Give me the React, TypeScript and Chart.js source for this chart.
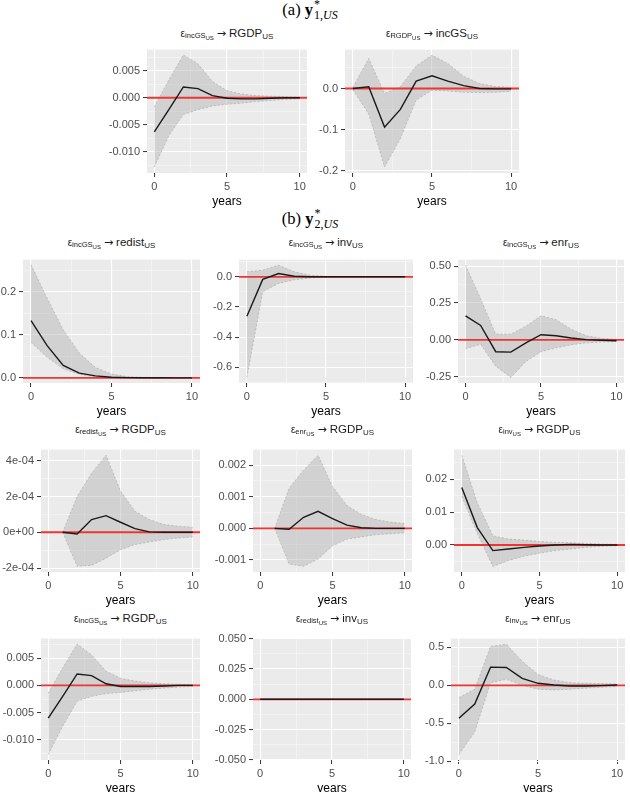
import React, { useEffect, useRef } from 'react';
import { Chart, registerables } from 'chart.js';

Chart.register(...registerables);

const SANS = '"Liberation Sans", Arial, Helvetica, sans-serif';
const SERIF = '"Liberation Serif", "Times New Roman", Times, serif';

// Horizon in years after the shock
const years = [0, 1, 2, 3, 4, 5, 6, 7, 8, 9, 10];
const yearTicks = [0, 5, 10];
const yearRange = [-0.5, 10.5];

// ---------- (a) y*_{1,US} ----------
// incGS shock -> RGDP
const a1Irf = [-0.0063, -0.0022, 0.002, 0.0017, 0.0004, -0.0001, -0.0002, -0.0002, -0.0001, 0.0, 0.0];
const a1Lower = [-0.0128, -0.007, -0.0031, -0.0022, -0.0015, -0.0012, -0.001, -0.0007, -0.0005, -0.0003, -0.0002];
const a1Upper = [-0.0017, 0.0033, 0.0079, 0.0063, 0.003, 0.0013, 0.0007, 0.0004, 0.0003, 0.0002, 0.0001];
const a1Range = [-0.0139, 0.0089];
const a1Ticks = [-0.01, -0.005, 0, 0.005];
const a1Labels = ['-0.010', '-0.005', '0.000', '0.005'];

// RGDP shock -> incGS
const a2Irf = [0.0, 0.004, -0.094, -0.051, 0.018, 0.031, 0.018, 0.007, 0.0, -0.001, -0.001];
const a2Lower = [-0.003, -0.062, -0.191, -0.122, -0.028, -0.004, -0.006, -0.009, -0.01, -0.009, -0.007];
const a2Upper = [0.003, 0.073, -0.012, 0.004, 0.055, 0.081, 0.061, 0.03, 0.012, 0.005, 0.003];
const a2Range = [-0.2057, 0.0947];
const a2Ticks = [-0.2, -0.1, 0];
const a2Labels = ['-0.2', '-0.1', '0.0'];

// ---------- (b) y*_{2,US} ----------
// incGS shock -> redist
const b1Irf = [0.133, 0.075, 0.029, 0.011, 0.0046, 0.0015, 0.0005, 0.0002, 0.0001, 0.0, 0.0];
const b1Lower = [0.083, 0.048, 0.021, 0.008, 0.002, 0.0005, 0.0001, 0.0, 0.0, 0.0, 0.0];
const b1Upper = [0.263, 0.185, 0.112, 0.058, 0.024, 0.009, 0.003, 0.001, 0.0005, 0.0002, 0.0001];
const b1Range = [-0.012, 0.275];
const b1Ticks = [0, 0.1, 0.2];
const b1Labels = ['0.0', '0.1', '0.2'];

// incGS shock -> inv
const b2Irf = [-0.262, -0.017, 0.022, 0.004, 0.0, 0.0, 0.0, 0.0, 0.0, 0.0, 0.0];
const b2Lower = [-0.667, -0.098, -0.044, -0.02, -0.008, -0.003, -0.001, 0.0, 0.0, 0.0, 0.0];
const b2Upper = [0.033, 0.044, 0.077, 0.033, 0.011, 0.003, 0.001, 0.0, 0.0, 0.0, 0.0];
const b2Range = [-0.704, 0.114];
const b2Ticks = [-0.6, -0.4, -0.2, 0];
const b2Labels = ['-0.6', '-0.4', '-0.2', '0.0'];

// incGS shock -> enr
const b3Irf = [0.163, 0.098, -0.08, -0.083, -0.02, 0.035, 0.028, 0.013, 0.002, -0.002, -0.006];
const b3Lower = [-0.059, -0.03, -0.178, -0.254, -0.146, -0.08, -0.054, -0.033, -0.02, -0.015, -0.011];
const b3Upper = [0.506, 0.278, 0.039, 0.039, 0.093, 0.163, 0.137, 0.072, 0.028, 0.011, 0.004];
const b3Range = [-0.292, 0.544];
const b3Ticks = [-0.25, 0, 0.25, 0.5];
const b3Labels = ['-0.25', '0.00', '0.25', '0.50'];

// redist shock -> RGDP (no response reported on impact)
const c1Irf = [null, 0.0, -0.00001, 0.000071, 0.000093, 0.000056, 0.00002, 0.000002, 0.0, 0.0, 0.0];
const c1Lower = [null, 0.0, -0.00019, -0.000185, -0.000145, -0.000097, -0.000069, -0.000054, -0.000041, -0.000032, -0.000026];
const c1Upper = [null, 0.0, 0.0002, 0.00033, 0.00043, 0.00023, 0.000118, 0.000071, 0.000043, 0.000034, 0.000028];
const c1Range = [-0.000222, 0.000462];
const c1Ticks = [-0.0002, 0, 0.0002, 0.0004];
const c1Labels = ['-2e-04', '0e+00', '2e-04', '4e-04'];

// enr shock -> RGDP (no response reported on impact)
const c2Irf = [null, 0.0, -0.00003, 0.00035, 0.00054, 0.00031, 0.0001, 0.00002, 0.0, 0.0, 0.0];
const c2Lower = [null, 0.0, -0.00113, -0.0012, -0.00097, -0.00055, -0.00034, -0.00027, -0.0002, -0.00017, -0.00014];
const c2Upper = [null, 0.0, 0.00127, 0.00184, 0.00231, 0.00132, 0.00072, 0.00044, 0.00028, 0.0002, 0.00015];
const c2Range = [-0.00138, 0.00249];
const c2Ticks = [-0.001, 0, 0.001, 0.002];
const c2Labels = ['-0.001', '0.000', '0.001', '0.002'];

// inv shock -> RGDP
const c3Irf = [0.0175, 0.0053, -0.0017, -0.0012, -0.0007, -0.0003, 0.0, 0.0002, 0.0001, 0.0, 0.0];
const c3Lower = [0.0148, 0.0035, -0.0065, -0.0047, -0.0034, -0.0025, -0.0017, -0.0012, -0.0007, -0.0004, -0.0002];
const c3Upper = [0.0273, 0.0128, 0.0028, 0.0018, 0.0015, 0.0011, 0.0008, 0.0007, 0.0005, 0.0003, 0.0002];
const c3Range = [-0.0082, 0.029];
const c3Ticks = [0, 0.01, 0.02];
const c3Labels = ['0.00', '0.01', '0.02'];

// incGS shock -> RGDP
const d1Irf = [-0.006, -0.002, 0.0021, 0.0018, 0.0003, -0.0002, -0.0002, -0.0002, -0.0001, 0.0, 0.0];
const d1Lower = [-0.0127, -0.0075, -0.0029, -0.002, -0.0015, -0.0013, -0.001, -0.0007, -0.0005, -0.0003, -0.0002];
const d1Upper = [-0.0014, 0.0032, 0.0076, 0.0056, 0.0026, 0.0013, 0.0008, 0.0005, 0.0003, 0.0002, 0.0001];
const d1Range = [-0.0137, 0.0086];
const d1Ticks = [-0.01, -0.005, 0, 0.005];
const d1Labels = ['-0.010', '-0.005', '0.000', '0.005'];

// redist shock -> inv (identically zero)
const d2Irf = [0, 0, 0, 0, 0, 0, 0, 0, 0, 0, 0];
const d2Lower = [0, 0, 0, 0, 0, 0, 0, 0, 0, 0, 0];
const d2Upper = [0, 0, 0, 0, 0, 0, 0, 0, 0, 0, 0];
const d2Range = [-0.05, 0.05];
const d2Ticks = [-0.05, -0.025, 0, 0.025, 0.05];
const d2Labels = ['-0.050', '-0.025', '0.000', '0.025', '0.050'];

// inv shock -> enr
const d3Irf = [-0.435, -0.248, 0.239, 0.235, 0.091, 0.026, 0.004, -0.009, -0.009, -0.004, 0.004];
const d3Lower = [-0.913, -0.617, 0.035, 0.078, 0.0, -0.052, -0.061, -0.052, -0.039, -0.026, -0.017];
const d3Upper = [-0.161, -0.052, 0.513, 0.543, 0.317, 0.143, 0.07, 0.035, 0.026, 0.022, 0.017];
const d3Range = [-0.986, 0.616];
const d3Ticks = [-1, -0.5, 0, 0.5];
const d3Labels = ['-1.0', '-0.5', '0.0', '0.5'];

type Series = (number | null)[];

interface PanelSpec {
  id: string;
  shock: string;
  response: string;
  irf: Series;
  lower: Series;
  upper: Series;
  range: number[];
  ticks: number[];
  labels: string[];
}

const panels: PanelSpec[] = [
  { id: 'a1', shock: 'incGS', response: 'RGDP', irf: a1Irf, lower: a1Lower, upper: a1Upper, range: a1Range, ticks: a1Ticks, labels: a1Labels },
  { id: 'a2', shock: 'RGDP', response: 'incGS', irf: a2Irf, lower: a2Lower, upper: a2Upper, range: a2Range, ticks: a2Ticks, labels: a2Labels },
  { id: 'b1', shock: 'incGS', response: 'redist', irf: b1Irf, lower: b1Lower, upper: b1Upper, range: b1Range, ticks: b1Ticks, labels: b1Labels },
  { id: 'b2', shock: 'incGS', response: 'inv', irf: b2Irf, lower: b2Lower, upper: b2Upper, range: b2Range, ticks: b2Ticks, labels: b2Labels },
  { id: 'b3', shock: 'incGS', response: 'enr', irf: b3Irf, lower: b3Lower, upper: b3Upper, range: b3Range, ticks: b3Ticks, labels: b3Labels },
  { id: 'c1', shock: 'redist', response: 'RGDP', irf: c1Irf, lower: c1Lower, upper: c1Upper, range: c1Range, ticks: c1Ticks, labels: c1Labels },
  { id: 'c2', shock: 'enr', response: 'RGDP', irf: c2Irf, lower: c2Lower, upper: c2Upper, range: c2Range, ticks: c2Ticks, labels: c2Labels },
  { id: 'c3', shock: 'inv', response: 'RGDP', irf: c3Irf, lower: c3Lower, upper: c3Upper, range: c3Range, ticks: c3Ticks, labels: c3Labels },
  { id: 'd1', shock: 'incGS', response: 'RGDP', irf: d1Irf, lower: d1Lower, upper: d1Upper, range: d1Range, ticks: d1Ticks, labels: d1Labels },
  { id: 'd2', shock: 'redist', response: 'inv', irf: d2Irf, lower: d2Lower, upper: d2Upper, range: d2Range, ticks: d2Ticks, labels: d2Labels },
  { id: 'd3', shock: 'inv', response: 'enr', irf: d3Irf, lower: d3Lower, upper: d3Upper, range: d3Range, ticks: d3Ticks, labels: d3Labels },
];

// Page layout: plot-panel rectangle [left, top, right, bottom] and title centre line
const placement: Record<string, { plot: number[]; titleY: number }> = {
  a1: { plot: [147, 48, 307, 173], titleY: 33 },
  a2: { plot: [345, 48, 519, 173], titleY: 33 },
  b1: { plot: [23, 258, 200, 383], titleY: 242 },
  b2: { plot: [239, 258, 413, 383], titleY: 242 },
  b3: { plot: [458, 258, 624, 383], titleY: 242 },
  c1: { plot: [41, 448, 200, 572], titleY: 429 },
  c2: { plot: [253, 448, 412, 572], titleY: 429 },
  c3: { plot: [454, 448, 625, 572], titleY: 429 },
  d1: { plot: [41, 637, 200, 760], titleY: 618 },
  d2: { plot: [253, 637, 411, 760], titleY: 618 },
  d3: { plot: [451, 637, 625, 760], titleY: 618 },
};

const Y_AXIS_W = 48;
const X_AXIS_H = 36;
const PAD_TOP = 8;
const PAD_RIGHT = 4;

const PANEL_BG = '#EBEBEB';
const BAND_FILL = 'rgba(175,175,175,0.42)';
const BAND_EDGE = 'rgba(160,160,160,0.7)';
const TICK_TEXT = '#4D4D4D';

// Major breaks plus half-way minor breaks (ggplot-style grid)
function withMinor(majors: number[], lo: number, hi: number): number[] {
  const out = [...majors];
  const step = majors.length > 1 ? majors[1] - majors[0] : 1;
  for (let i = 0; i < majors.length - 1; i++) out.push((majors[i] + majors[i + 1]) / 2);
  const below = majors[0] - step / 2;
  const above = majors[majors.length - 1] + step / 2;
  if (below >= lo) out.push(below);
  if (above <= hi) out.push(above);
  return out.sort((a, b) => a - b);
}

function majorIndex(majors: number[], v: number): number {
  return majors.findIndex((m) => Math.abs(m - v) < 1e-12);
}

const panelBackground = {
  id: 'panelBackground',
  beforeDraw(chart: any) {
    const { ctx, chartArea: a } = chart;
    ctx.save();
    ctx.fillStyle = PANEL_BG;
    ctx.fillRect(a.left, a.top, a.right - a.left, a.bottom - a.top);
    ctx.restore();
  },
};

function toPoints(values: Series) {
  return years.map((x, i) => ({ x, y: values[i] }));
}

function gridStyle(majors: number[]) {
  return {
    color: (c: any) => (majorIndex(majors, c.tick?.value) >= 0 ? '#FFFFFF' : 'rgba(255,255,255,0.75)'),
    lineWidth: (c: any) => (majorIndex(majors, c.tick?.value) >= 0 ? 1.1 : 0.55),
    tickColor: (c: any) => (majorIndex(majors, c.tick?.value) >= 0 ? '#333333' : 'rgba(0,0,0,0)'),
    tickLength: 4,
    tickWidth: 1,
    drawTicks: true,
  };
}

function PanelTitle({ shock, response, cx, cy }: { shock: string; response: string; cx: number; cy: number }) {
  return (
    <div
      style={{
        position: 'absolute',
        left: cx - 110,
        top: cy - 9,
        width: 220,
        height: 18,
        lineHeight: '18px',
        textAlign: 'center',
        whiteSpace: 'nowrap',
        fontFamily: SANS,
        fontSize: 11.5,
        color: '#1A1A1A',
      }}
    >
      <span style={{ fontSize: 10 }}>ε</span>
      <span style={{ fontSize: 7.5, position: 'relative', top: 1 }}>
        {shock}
        <span style={{ fontSize: 6, position: 'relative', top: 2 }}>US</span>
      </span>
      <span style={{ fontFamily: '"DejaVu Sans", sans-serif', fontSize: 11, margin: '0 3px' }}>→</span>
      <span>{response}</span>
      <span style={{ fontSize: 8, position: 'relative', top: 2 }}>US</span>
    </div>
  );
}

function Caption({ tag, index, cx, cy }: { tag: string; index: string; cx: number; cy: number }) {
  return (
    <div
      style={{
        position: 'absolute',
        left: cx - 80,
        top: cy - 11,
        width: 160,
        height: 22,
        lineHeight: '22px',
        textAlign: 'center',
        whiteSpace: 'nowrap',
        fontFamily: SERIF,
        fontSize: 16.5,
        color: '#000',
      }}
    >
      {'(' + tag + ') '}
      <span style={{ fontWeight: 'bold' }}>y</span>
      <span style={{ position: 'relative', display: 'inline-block', fontSize: 12, top: 4, marginLeft: 1 }}>
        <span style={{ position: 'absolute', left: 0, top: -11 }}>*</span>
        {index + ','}
        <i>US</i>
      </span>
    </div>
  );
}

function IrfPanel({ panel }: { panel: PanelSpec }) {
  const ref = useRef<HTMLCanvasElement>(null);
  const [l, t, r, b] = placement[panel.id].plot;
  const width = r - l + Y_AXIS_W + PAD_RIGHT;
  const height = b - t + PAD_TOP + X_AXIS_H;

  useEffect(() => {
    const canvas = ref.current;
    if (!canvas) return;
    const [yMin, yMax] = panel.range;
    const xAll = withMinor(yearTicks, yearRange[0], yearRange[1]);
    const yAll = withMinor(panel.ticks, yMin, yMax);

    const chart = new Chart(canvas, {
      type: 'line',
      data: {
        datasets: [
          {
            label: 'response',
            data: toPoints(panel.irf),
            borderColor: '#1A1A1A',
            borderWidth: 1.4,
            pointRadius: 0,
            fill: false,
          },
          {
            label: 'zero',
            data: [
              { x: yearRange[0], y: 0 },
              { x: yearRange[1], y: 0 },
            ],
            borderColor: '#EE3434',
            borderWidth: 1.8,
            pointRadius: 0,
            fill: false,
          },
          {
            label: 'lower',
            data: toPoints(panel.lower),
            borderColor: BAND_EDGE,
            borderWidth: 0.8,
            borderDash: [2, 2],
            pointRadius: 0,
            fill: false,
          },
          {
            label: 'upper',
            data: toPoints(panel.upper),
            borderColor: BAND_EDGE,
            borderWidth: 0.8,
            borderDash: [2, 2],
            pointRadius: 0,
            fill: '-1',
            backgroundColor: BAND_FILL,
          },
        ],
      } as any,
      options: {
        responsive: false,
        animation: false,
        devicePixelRatio: 1,
        layout: { padding: { left: 0, top: PAD_TOP, right: PAD_RIGHT, bottom: 0 } },
        plugins: {
          legend: { display: false },
          tooltip: { enabled: false },
          title: { display: false },
        },
        scales: {
          x: {
            type: 'linear',
            min: yearRange[0],
            max: yearRange[1],
            bounds: 'data',
            afterBuildTicks: (s: any) => {
              s.ticks = xAll.map((v) => ({ value: v }));
            },
            afterFit: (s: any) => {
              s.height = X_AXIS_H;
            },
            ticks: {
              autoSkip: false,
              maxRotation: 0,
              padding: 3,
              color: TICK_TEXT,
              font: { family: SANS, size: 11 },
              callback: (v: any) => {
                const i = majorIndex(yearTicks, Number(v));
                return i >= 0 ? String(yearTicks[i]) : '';
              },
            },
            grid: gridStyle(yearTicks),
            border: { display: false },
            title: {
              display: true,
              text: 'years',
              color: '#000',
              font: { family: SANS, size: 12 },
              padding: { top: 0, bottom: 0 },
            },
          },
          y: {
            type: 'linear',
            min: yMin,
            max: yMax,
            bounds: 'data',
            afterBuildTicks: (s: any) => {
              s.ticks = yAll.map((v) => ({ value: v }));
            },
            afterFit: (s: any) => {
              s.width = Y_AXIS_W;
            },
            ticks: {
              autoSkip: false,
              padding: 3,
              color: TICK_TEXT,
              font: { family: SANS, size: 11 },
              callback: (v: any) => {
                const i = majorIndex(panel.ticks, Number(v));
                return i >= 0 ? panel.labels[i] : '';
              },
            },
            grid: gridStyle(panel.ticks),
            border: { display: false },
          },
        },
      } as any,
      plugins: [panelBackground],
    });
    return () => chart.destroy();
  }, []);

  return (
    <>
      <PanelTitle shock={panel.shock} response={panel.response} cx={(l + r) / 2} cy={placement[panel.id].titleY} />
      <canvas
        ref={ref}
        width={width}
        height={height}
        style={{ position: 'absolute', left: l - Y_AXIS_W, top: t - PAD_TOP, width, height }}
      />
    </>
  );
}

export default function App() {
  return (
    <div
      style={{
        position: 'absolute',
        left: 0,
        top: 0,
        width: 630,
        height: 792,
        background: '#FFFFFF',
        overflow: 'hidden',
      }}
    >
      <Caption tag="a" index="1" cx={310} cy={10} />
      <Caption tag="b" index="2" cx={310} cy={219} />
      {panels.map((p) => (
        <IrfPanel key={p.id} panel={p} />
      ))}
    </div>
  );
}
